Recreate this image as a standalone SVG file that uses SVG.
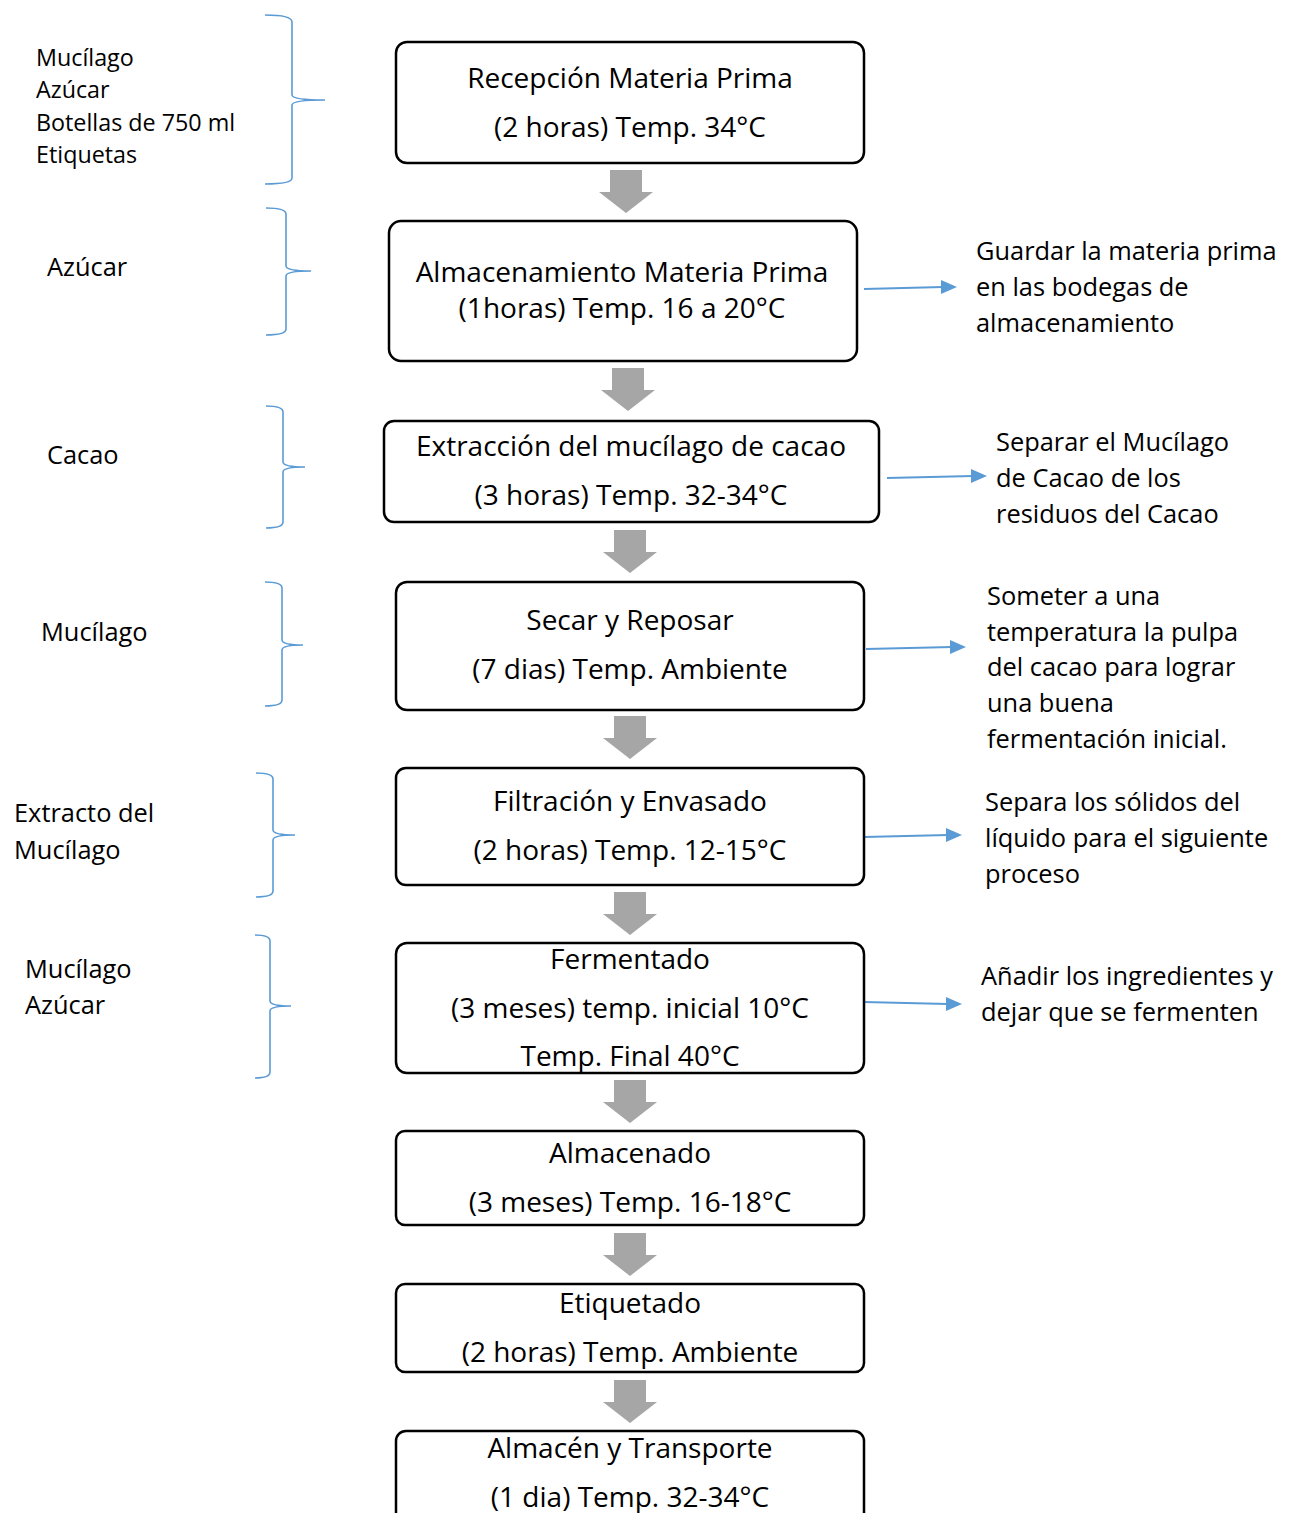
<svg xmlns="http://www.w3.org/2000/svg" width="1294" height="1513" viewBox="0 0 1294 1513">
<defs>
<style>
.box{fill:#fff;stroke:#000;stroke-width:2.5}
.t{font-family:"Open Sans","Liberation Sans",Arial,sans-serif;font-size:28px;fill:#000;text-anchor:middle}
.s{font-family:"Open Sans","Liberation Sans",Arial,sans-serif;font-size:25.4px;fill:#000}
.l{font-family:"Open Sans","Liberation Sans",Arial,sans-serif;font-size:23.3px;fill:#000}
.br{fill:none;stroke:#5b9bd5;stroke-width:1.6}
.ba{fill:none;stroke:#5b9bd5;stroke-width:2.2}
.bh{fill:#5b9bd5}
.ga{fill:#a6a6a6}
</style>
<path id="gar" d="M-16,0 H16 V22 H27 L0,43 L-27,22 H-16 z"/>
</defs>

<g id="connectors">
<use href="#gar" class="ga" x="626" y="170"/>
<use href="#gar" class="ga" x="628" y="368"/>
<use href="#gar" class="ga" x="630" y="530"/>
<use href="#gar" class="ga" x="630" y="716"/>
<use href="#gar" class="ga" x="630" y="892"/>
<use href="#gar" class="ga" x="630" y="1080"/>
<use href="#gar" class="ga" x="630" y="1233"/>
<use href="#gar" class="ga" x="630" y="1380"/>
<path class="ba" d="M864,289 L943,287"/>
<path class="bh" d="M941,280 L957,287 L941,294 z"/>
<path class="ba" d="M887,478 L973,476"/>
<path class="bh" d="M971,469 L987,476 L971,483 z"/>
<path class="ba" d="M866,649 L952,647"/>
<path class="bh" d="M950,640 L966,647 L950,654 z"/>
<path class="ba" d="M864,837 L948,835"/>
<path class="bh" d="M946,828 L962,835 L946,842 z"/>
<path class="ba" d="M864,1002 L948,1004"/>
<path class="bh" d="M946,997 L962,1004 L946,1011 z"/>
</g>

<g id="brackets">
<path class="br" d="M265,15 Q292,15 292,22 V95 Q292,100 325,100 Q292,100 292,105 V178 Q292,184 265,184"/>
<path class="br" d="M266,208 Q286,208 286,214 V266 Q286,271 311,271 Q286,271 286,276 V329 Q286,335 266,335"/>
<path class="br" d="M266,406 Q283,406 283,412 V462 Q283,467 305,467 Q283,467 283,472 V522 Q283,528 266,528"/>
<path class="br" d="M265,582 Q282,582 282,588 V640 Q282,645 303,645 Q282,645 282,650 V700 Q282,706 265,706"/>
<path class="br" d="M256,773 Q273,773 273,779 V830 Q273,835 295,835 Q273,835 273,840 V891 Q273,897 256,897"/>
<path class="br" d="M255,935 Q270,935 270,941 V1001 Q270,1006 291,1006 Q270,1006 270,1011 V1072 Q270,1078 255,1078"/>
</g>

<g id="n1">
<rect class="box" x="396" y="42" width="468" height="121" rx="11"/>
<text class="t" x="630" y="88">Recepción Materia Prima</text>
<text class="t" x="630" y="137">(2 horas) Temp. 34°C</text>
</g>
<g id="n2">
<rect class="box" x="389" y="221" width="468" height="140" rx="12"/>
<text class="t" x="622" y="282">Almacenamiento Materia Prima</text>
<text class="t" x="622" y="318">(1horas) Temp. 16 a 20°C</text>
</g>
<g id="n3">
<rect class="box" x="384" y="421" width="495" height="101" rx="10"/>
<text class="t" x="631" y="456">Extracción del mucílago de cacao</text>
<text class="t" x="631" y="505">(3 horas) Temp. 32-34°C</text>
</g>
<g id="n4">
<rect class="box" x="396" y="582" width="468" height="128" rx="11"/>
<text class="t" x="630" y="630">Secar y Reposar</text>
<text class="t" x="630" y="679">(7 dias) Temp. Ambiente</text>
</g>
<g id="n5">
<rect class="box" x="396" y="768" width="468" height="117" rx="10"/>
<text class="t" x="630" y="811">Filtración y Envasado</text>
<text class="t" x="630" y="860">(2 horas) Temp. 12-15°C</text>
</g>
<g id="n6">
<rect class="box" x="396" y="943" width="468" height="130" rx="11"/>
<text class="t" x="630" y="969">Fermentado</text>
<text class="t" x="630" y="1018">(3 meses) temp. inicial 10°C</text>
<text class="t" x="630" y="1066">Temp. Final 40°C</text>
</g>
<g id="n7">
<rect class="box" x="396" y="1131" width="468" height="94" rx="9"/>
<text class="t" x="630" y="1163">Almacenado</text>
<text class="t" x="630" y="1212">(3 meses) Temp. 16-18°C</text>
</g>
<g id="n8">
<rect class="box" x="396" y="1284" width="468" height="88" rx="9"/>
<text class="t" x="630" y="1313">Etiquetado</text>
<text class="t" x="630" y="1362">(2 horas) Temp. Ambiente</text>
</g>
<g id="n9">
<rect class="box" x="396" y="1431" width="468" height="100" rx="10"/>
<text class="t" x="630" y="1458">Almacén y Transporte</text>
<text class="t" x="630" y="1507">(1 dia) Temp. 32-34°C</text>
</g>

<g id="right-notes">
<text class="s" x="976" y="260">Guardar la materia prima</text>
<text class="s" x="976" y="296">en las bodegas de</text>
<text class="s" x="976" y="332">almacenamiento</text>
<text class="s" x="996" y="451">Separar el Mucílago</text>
<text class="s" x="996" y="487">de Cacao de los</text>
<text class="s" x="996" y="523">residuos del Cacao</text>
<text class="s" x="987" y="605">Someter a una</text>
<text class="s" x="987" y="641">temperatura la pulpa</text>
<text class="s" x="987" y="676">del cacao para lograr</text>
<text class="s" x="987" y="712">una buena</text>
<text class="s" x="987" y="748">fermentación inicial.</text>
<text class="s" x="985" y="811">Separa los sólidos del</text>
<text class="s" x="985" y="847">líquido para el siguiente</text>
<text class="s" x="985" y="883">proceso</text>
<text class="s" x="981" y="985">Añadir los ingredientes y</text>
<text class="s" x="981" y="1021">dejar que se fermenten</text>
</g>

<g id="left-notes">
<text class="l" x="36" y="66">Mucílago</text>
<text class="l" x="36" y="98">Azúcar</text>
<text class="l" x="36" y="131">Botellas de 750 ml</text>
<text class="l" x="36" y="163">Etiquetas</text>
<text class="s" x="47" y="276">Azúcar</text>
<text class="s" x="47" y="464">Cacao</text>
<text class="s" x="41" y="641">Mucílago</text>
<text class="s" x="14" y="822">Extracto del</text>
<text class="s" x="14" y="859">Mucílago</text>
<text class="s" x="25" y="978">Mucílago</text>
<text class="s" x="25" y="1014">Azúcar</text>
</g>
</svg>
